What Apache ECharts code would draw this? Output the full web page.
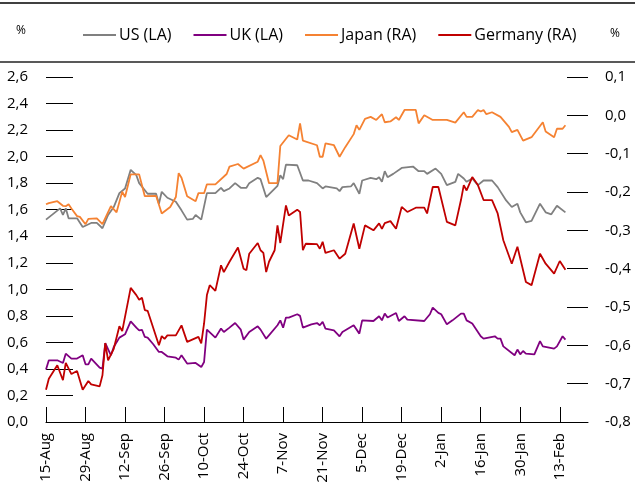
<!DOCTYPE html>
<html>
<head>
<meta charset="utf-8">
<script src="https://cdn.jsdelivr.net/npm/echarts@6/dist/echarts.min.js"></script>
<style>
  html, body { margin: 0; padding: 0; background: #fff; }
  #chart { width: 635px; height: 493px; }
</style>
</head>
<body>
<div id="chart"></div>
<script>
// x axis: one category per calendar day, starting 15-Aug
const startDate = Date.UTC(2016, 7, 15);
const dayCount = 193;
const months = ['Jan', 'Feb', 'Mar', 'Apr', 'May', 'Jun', 'Jul', 'Aug', 'Sep', 'Oct', 'Nov', 'Dec'];
const days = Array.from({length: dayCount}, (_, i) => {
  const d = new Date(startDate + i * 86400000);
  return d.getUTCDate() + '-' + months[d.getUTCMonth()];
});
const labelStep = 14;

// [day index, value] — US and UK on left axis (%)
const us = [[0,1.525],[5,1.61],[6,1.56],[7,1.61],[8,1.535],[11,1.535],[13,1.47],[16,1.50],[18,1.50],[20,1.46],
  [22,1.56],[24,1.62],[26,1.725],[28,1.76],[30,1.90],[32,1.86],[33,1.80],[36,1.72],[39,1.72],[40,1.645],
  [41,1.735],[43,1.69],[46,1.66],[48,1.595],[50,1.525],[52,1.53],[53,1.56],[55,1.525],[57,1.725],[60,1.725],
  [62,1.765],[63,1.74],[65,1.76],[67,1.80],[69,1.765],[71,1.765],[72,1.80],[75,1.84],[76,1.83],[78,1.695],
  [82,1.78],[83,1.86],[84,1.83],[85,1.94],[89,1.935],[91,1.82],[93,1.82],[96,1.80],[98,1.76],[99,1.775],
  [103,1.76],[104,1.74],[105,1.77],[108,1.775],[109,1.80],[111,1.72],[112,1.82],[115,1.84],[117,1.83],[118,1.845],
  [119,1.81],[120,1.89],[121,1.845],[123,1.87],[126,1.915],[130,1.925],[132,1.89],[134,1.89],[135,1.87],[138,1.91],
  [140,1.87],[142,1.785],[145,1.81],[146,1.87],[148,1.835],[149,1.81],[151,1.835],[153,1.785],[155,1.82],[158,1.82],
  [160,1.77],[163,1.67],[165,1.62],[167,1.645],[168,1.58],[170,1.505],[171,1.51],[172,1.515],[175,1.645],[177,1.58],
  [179,1.565],[181,1.63],[184,1.58]];

const uk = [[0,0.395],[1,0.465],[4,0.465],[6,0.445],[7,0.515],[9,0.478],[11,0.478],[13,0.503],[14,0.435],[15,0.435],
  [16,0.478],[19,0.41],[20,0.402],[21,0.595],[23,0.503],[24,0.565],[26,0.636],[28,0.661],[30,0.759],[32,0.711],
  [33,0.691],[34,0.695],[35,0.641],[36,0.636],[38,0.586],[40,0.528],[41,0.528],[43,0.495],[46,0.485],[47,0.47],
  [48,0.503],[50,0.44],[53,0.445],[55,0.414],[56,0.452],[57,0.696],[60,0.636],[62,0.704],[63,0.678],[65,0.711],
  [67,0.746],[69,0.696],[70,0.621],[72,0.678],[75,0.721],[76,0.696],[78,0.628],[82,0.729],[83,0.766],[84,0.711],
  [85,0.787],[86,0.787],[89,0.812],[90,0.80],[91,0.711],[94,0.736],[96,0.746],[97,0.729],[98,0.754],[99,0.704],
  [102,0.691],[104,0.646],[105,0.678],[109,0.729],[111,0.666],[112,0.766],[116,0.761],[118,0.797],[119,0.766],[120,0.817],
  [121,0.787],[124,0.822],[125,0.761],[127,0.797],[128,0.772],[134,0.761],[136,0.812],[137,0.862],[139,0.822],[140,0.812],
  [142,0.736],[144,0.766],[147,0.817],[148,0.817],[149,0.766],[151,0.742],[154,0.646],[155,0.628],[159,0.646],[160,0.628],
  [161,0.628],[162,0.57],[166,0.503],[167,0.546],[168,0.51],[169,0.535],[170,0.515],[173,0.51],[175,0.61],[176,0.57],
  [180,0.553],[181,0.57],[183,0.646],[184,0.621]];

// Japan and Germany on right axis (%)
const japan = [[0,-0.232],[1,-0.229],[4,-0.224],[6,-0.236],[7,-0.237],[8,-0.232],[9,-0.243],[11,-0.263],[12,-0.265],[14,-0.284],
  [15,-0.270],[18,-0.269],[20,-0.284],[23,-0.237],[25,-0.253],[27,-0.199],[28,-0.213],[30,-0.154],[33,-0.154],[35,-0.211],
  [39,-0.210],[41,-0.256],[44,-0.239],[46,-0.213],[47,-0.151],[48,-0.163],[50,-0.211],[53,-0.224],[54,-0.203],[56,-0.203],
  [57,-0.180],[60,-0.180],[64,-0.153],[65,-0.134],[68,-0.127],[70,-0.139],[75,-0.121],[76,-0.104],[77,-0.118],[79,-0.177],
  [82,-0.177],[83,-0.080],[86,-0.052],[89,-0.063],[90,-0.021],[91,-0.066],[96,-0.078],[97,-0.108],[98,-0.108],[99,-0.073],
  [102,-0.078],[104,-0.108],[106,-0.083],[109,-0.049],[110,-0.026],[111,-0.038],[113,-0.009],[115,-0.004],[117,-0.012],[119,0.003],
  [120,-0.018],[122,-0.016],[124,-0.005],[125,-0.012],[127,0.014],[131,0.014],[132,-0.021],[134,0.000],[137,-0.012],[142,-0.012],
  [145,-0.019],[148,0.008],[149,-0.004],[151,-0.004],[153,0.014],[154,0.010],[155,0.014],[156,0.003],[158,0.008],[161,-0.004],
  [164,-0.030],[165,-0.044],[167,-0.038],[169,-0.066],[172,-0.057],[176,-0.018],[177,-0.042],[180,-0.057],[181,-0.035],[183,-0.035],
  [184,-0.026]];

const germany = [[0,-0.716],[1,-0.687],[4,-0.652],[6,-0.691],[7,-0.646],[9,-0.675],[11,-0.667],[13,-0.716],[15,-0.693],[16,-0.702],
  [19,-0.707],[20,-0.678],[21,-0.594],[22,-0.639],[24,-0.609],[26,-0.550],[27,-0.563],[30,-0.450],[32,-0.469],[33,-0.481],
  [34,-0.476],[35,-0.508],[36,-0.510],[40,-0.600],[41,-0.576],[42,-0.583],[43,-0.574],[46,-0.574],[48,-0.548],[50,-0.591],
  [54,-0.578],[55,-0.595],[56,-0.543],[57,-0.469],[58,-0.443],[60,-0.458],[62,-0.391],[63,-0.409],[65,-0.382],[68,-0.345],
  [70,-0.400],[71,-0.404],[72,-0.361],[75,-0.333],[76,-0.352],[77,-0.359],[78,-0.409],[79,-0.382],[81,-0.352],[82,-0.287],
  [83,-0.333],[85,-0.235],[86,-0.261],[89,-0.246],[90,-0.252],[91,-0.352],[92,-0.335],[96,-0.336],[97,-0.348],[98,-0.330],
  [99,-0.359],[102,-0.352],[104,-0.374],[106,-0.361],[109,-0.282],[111,-0.348],[113,-0.287],[116,-0.300],[117,-0.291],[118,-0.282],
  [119,-0.296],[120,-0.281],[122,-0.276],[124,-0.296],[126,-0.239],[128,-0.252],[131,-0.241],[134,-0.241],[135,-0.256],[137,-0.187],
  [139,-0.187],[142,-0.278],[145,-0.287],[147,-0.221],[148,-0.182],[149,-0.196],[151,-0.161],[153,-0.182],[155,-0.221],[158,-0.221],
  [160,-0.256],[162,-0.326],[165,-0.387],[167,-0.343],[170,-0.435],[172,-0.443],[175,-0.361],[177,-0.387],[180,-0.413],[182,-0.380],
  [184,-0.403]];

const font = '"Open Sans", sans-serif';
const comma = v => v.toFixed(1).replace('.', ',');

const chart = echarts.init(document.getElementById('chart'));
const option = {
  animation: false,
  textStyle: {fontFamily: font, color: '#000'},
  grid: {left: 46, right: 47, top: 77, bottom: 71, containLabel: false},
  legend: {
    left: 78,
    top: 22,
    icon: 'rect',
    itemWidth: 33,
    itemHeight: 2,
    itemGap: 22,
    textStyle: {fontFamily: font, fontSize: 16, color: '#000', padding: [0, 0, 0, -2]},
    data: ['US (LA)', 'UK (LA)', 'Japan (RA)', 'Germany (RA)']
  },
  graphic: [
    {type: 'line', shape: {x1: 0, y1: 3, x2: 635, y2: 3}, style: {stroke: '#000', lineWidth: 1.5}},
    {type: 'line', shape: {x1: 0, y1: 62, x2: 635, y2: 62}, style: {stroke: '#595959', lineWidth: 2}},
    {type: 'text', left: 16, top: 25, style: {text: '%', font: '12px ' + font, fill: '#000'}},
    {type: 'text', left: 610, top: 28, style: {text: '%', font: '12px ' + font, fill: '#000'}}
  ],
  xAxis: {
    type: 'category',
    data: days,
    boundaryGap: false,
    axisLine: {lineStyle: {color: '#000', width: 1}},
    axisTick: {inside: true, length: 15, interval: i => i % labelStep === 0, lineStyle: {color: '#000'}},
    axisLabel: {
      rotate: 90,
      interval: i => i % labelStep === 0,
      margin: 11,
      fontSize: 15,
      fontFamily: font,
      color: '#000'
    },
    splitLine: {show: false}
  },
  yAxis: [
    {
      type: 'value',
      position: 'left',
      min: 0,
      max: 2.6,
      interval: 0.2,
      axisLine: {show: false},
      axisTick: {show: true, inside: true, length: 27, lineStyle: {color: '#000'}},
      axisLabel: {formatter: comma, margin: 18, fontSize: 15, fontFamily: font, color: '#000'},
      splitLine: {show: false}
    },
    {
      type: 'value',
      position: 'right',
      min: -0.8,
      max: 0.1,
      interval: 0.1,
      axisLine: {show: false},
      axisTick: {show: true, inside: true, length: 21, lineStyle: {color: '#000'}},
      axisLabel: {formatter: comma, margin: 17, fontSize: 15, fontFamily: font, color: '#000'},
      splitLine: {show: false}
    }
  ],
  series: [
    {name: 'US (LA)', type: 'line', yAxisIndex: 0, data: us, showSymbol: false, symbol: 'none',
      itemStyle: {color: '#808080'}, lineStyle: {color: '#808080', width: 1.8}},
    {name: 'UK (LA)', type: 'line', yAxisIndex: 0, data: uk, showSymbol: false, symbol: 'none',
      itemStyle: {color: '#800080'}, lineStyle: {color: '#800080', width: 1.8}},
    {name: 'Japan (RA)', type: 'line', yAxisIndex: 1, data: japan, showSymbol: false, symbol: 'none',
      itemStyle: {color: '#f58232'}, lineStyle: {color: '#f58232', width: 1.8}},
    {name: 'Germany (RA)', type: 'line', yAxisIndex: 1, data: germany, showSymbol: false, symbol: 'none',
      itemStyle: {color: '#c00000'}, lineStyle: {color: '#c00000', width: 1.8}}
  ]
};
chart.setOption(option);
</script>
</body>
</html>
